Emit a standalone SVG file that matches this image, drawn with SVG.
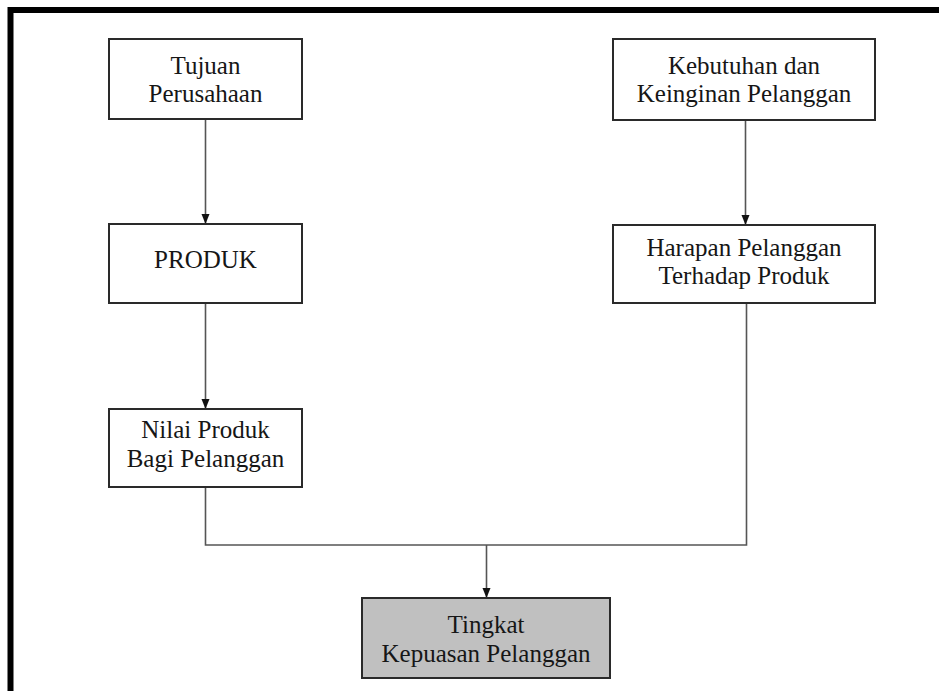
<svg xmlns="http://www.w3.org/2000/svg" width="939" height="691" viewBox="0 0 939 691">
<style>
.box{fill:#fff;stroke:#2a2a2a;stroke-width:2}
.hl{fill:#c0c0c0}
.t{font-family:"Liberation Serif","Times New Roman",serif;font-size:25px;fill:#161616;text-anchor:middle}
.c{fill:none;stroke:#555;stroke-width:1.6}
</style>
<defs>
<marker id="ah" viewBox="0 0 10 10" refX="10" refY="5" markerWidth="10" markerHeight="10" markerUnits="userSpaceOnUse" orient="auto">
<path d="M0,1 L10,5 L0,9 Z" fill="#111"/>
</marker>
</defs>
<rect width="939" height="691" fill="#fff"/>
<path d="M10.5,691 V10 H939" fill="none" stroke="#000" stroke-width="6"/>
<g id="connectors">
<line class="c" x1="205.5" y1="119" x2="205.5" y2="224" marker-end="url(#ah)"/>
<line class="c" x1="205.5" y1="303" x2="205.5" y2="409" marker-end="url(#ah)"/>
<line class="c" x1="745.5" y1="120" x2="745.5" y2="225" marker-end="url(#ah)"/>
<path class="c" d="M205.5,487 V545 H746.5 V303"/>
<line class="c" x1="486.5" y1="545" x2="486.5" y2="598" marker-end="url(#ah)"/>
</g>
<g id="tujuan">
<rect class="box" x="109" y="39" width="193" height="80"/>
<text class="t" x="205.5" y="74">Tujuan</text>
<text class="t" x="205.5" y="102">Perusahaan</text>
</g>
<g id="kebutuhan">
<rect class="box" x="613" y="39" width="262" height="81"/>
<text class="t" x="744" y="74">Kebutuhan dan</text>
<text class="t" x="744" y="102">Keinginan Pelanggan</text>
</g>
<g id="produk">
<rect class="box" x="109" y="224" width="193" height="79"/>
<text class="t" x="205.5" y="268">PRODUK</text>
</g>
<g id="harapan">
<rect class="box" x="613" y="225" width="262" height="78"/>
<text class="t" x="744" y="256">Harapan Pelanggan</text>
<text class="t" x="744" y="284">Terhadap Produk</text>
</g>
<g id="nilai">
<rect class="box" x="109" y="409" width="193" height="78"/>
<text class="t" x="205.5" y="438">Nilai Produk</text>
<text class="t" x="205.5" y="467">Bagi Pelanggan</text>
</g>
<g id="tingkat">
<rect class="box hl" x="362" y="598" width="248" height="80"/>
<text class="t" x="486" y="633">Tingkat</text>
<text class="t" x="486" y="662">Kepuasan Pelanggan</text>
</g>
</svg>
